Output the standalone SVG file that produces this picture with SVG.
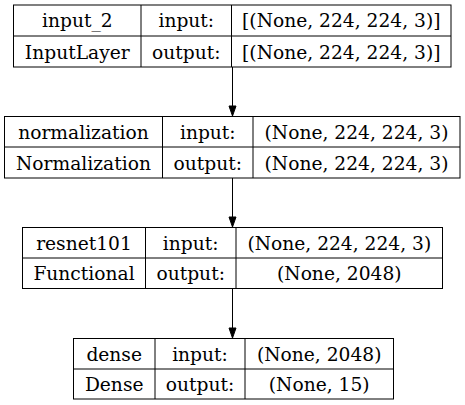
<svg xmlns="http://www.w3.org/2000/svg" width="465" height="405" viewBox="0 0 465 405">
<style>
.b{fill:#fff;stroke:#000;stroke-width:1}
.l{stroke:#000;stroke-width:1;fill:none}
text{font-family:"DejaVu Serif",serif;font-size:18.67px;text-anchor:middle;fill:#000}
.e{stroke:#000;stroke-width:1;fill:none}
.h{fill:#000;stroke:#000;stroke-width:1}
</style>
<rect width="465" height="405" fill="#fff"/>
<g id="connectors">
<path class="e" d="M232.5 67V106"/><polygon class="h" points="229,106 236,106 232.5,116"/>
<path class="e" d="M232.5 178V217"/><polygon class="h" points="229,217 236,217 232.5,227"/>
<path class="e" d="M232.5 288.5V328"/><polygon class="h" points="229,328 236,328 232.5,338"/>
</g>
<g id="input_2">
<rect class="b" x="13.5" y="5" width="437.5" height="62"/>
<path class="l" d="M13.5 36H451M141 5V67M231.5 5V67"/>
<text x="77.3" y="27">input_2</text>
<text x="186.3" y="27">input:</text>
<text x="341.3" y="27">[(None, 224, 224, 3)]</text>
<text x="77.3" y="58.5">InputLayer</text>
<text x="186.3" y="58.5">output:</text>
<text x="341.3" y="58.5">[(None, 224, 224, 3)]</text>
</g>
<g id="normalization">
<rect class="b" x="4.5" y="116.5" width="455.5" height="61.5"/>
<path class="l" d="M4.5 147H460M162.5 116.5V178M253 116.5V178"/>
<text x="83.5" y="138.5">normalization</text>
<text x="207.8" y="138.5">input:</text>
<text x="356.5" y="138.5">(None, 224, 224, 3)</text>
<text x="83.5" y="169.5">Normalization</text>
<text x="207.8" y="169.5">output:</text>
<text x="356.5" y="169.5">(None, 224, 224, 3)</text>
</g>
<g id="resnet101">
<rect class="b" x="22.5" y="227.5" width="420" height="61"/>
<path class="l" d="M22.5 258H442.5M145.5 227.5V288.5M236 227.5V288.5"/>
<text x="84" y="249.5">resnet101</text>
<text x="190.7" y="249.5">input:</text>
<text x="339.3" y="249.5">(None, 224, 224, 3)</text>
<text x="84" y="280">Functional</text>
<text x="190.7" y="280">output:</text>
<text x="339.3" y="280">(None, 2048)</text>
</g>
<g id="dense">
<rect class="b" x="73.5" y="338.5" width="320" height="60.5"/>
<path class="l" d="M73.5 369H393.5M155 338.5V399M245 338.5V399"/>
<text x="114.2" y="360.5">dense</text>
<text x="200" y="360.5">input:</text>
<text x="319.2" y="360.5">(None, 2048)</text>
<text x="114.2" y="391">Dense</text>
<text x="200" y="391">output:</text>
<text x="319.2" y="391">(None, 15)</text>
</g>
</svg>
